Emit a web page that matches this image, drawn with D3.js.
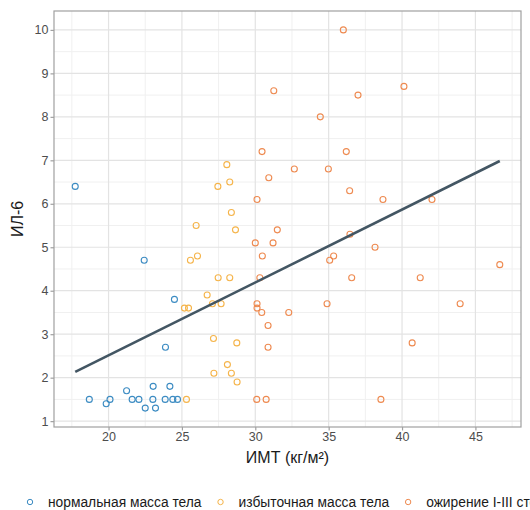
<!DOCTYPE html>
<html>
<head>
<meta charset="utf-8">
<script src="https://cdn.jsdelivr.net/npm/d3@7"></script>
<style>
  body { margin: 0; background: #fff; }
  svg { font-family: "Liberation Sans", Arial, sans-serif; }
</style>
</head>
<body>
<div id="chart"></div>
<script>
'use strict';

// ИМТ and ИЛ-6 per group
var normalBmi = [17.73, 22.43, 24.49, 23.88, 21.23, 23.04, 24.18, 18.69, 19.84, 20.10, 21.61, 22.07, 23.02, 23.86, 24.38, 24.70, 22.50, 23.20];
var normalIl6 = [6.4, 4.7, 3.8, 2.7, 1.7, 1.8, 1.8, 1.5, 1.4, 1.5, 1.5, 1.5, 1.5, 1.5, 1.5, 1.5, 1.3, 1.3];

var overBmi = [28.06, 27.45, 28.26, 28.37, 25.97, 28.65, 26.06, 25.58, 27.47, 28.26, 26.72, 27.08, 27.67, 25.17, 25.45, 27.15, 28.74, 28.10, 27.18, 28.37, 28.76, 25.31];
var overIl6 = [6.9, 6.4, 6.5, 5.8, 5.5, 5.4, 4.8, 4.7, 4.3, 4.3, 3.9, 3.7, 3.7, 3.6, 3.6, 2.9, 2.8, 2.3, 2.1, 2.1, 1.9, 1.5];

var obeseBmi = [31.26, 30.46, 30.92, 30.12, 36.0, 40.13, 37.0, 34.43, 36.20, 32.66, 34.98, 36.43, 38.70, 42.04, 31.50, 30.0, 31.21, 30.48, 30.31, 30.12, 30.12, 30.44, 32.28, 30.87, 30.87, 30.10, 30.74, 36.45, 38.16, 35.07, 35.34, 46.66, 36.57, 41.24, 34.89, 43.96, 40.69, 38.56];
var obeseIl6 = [8.6, 7.2, 6.6, 6.1, 10.0, 8.7, 8.5, 8.0, 7.2, 6.8, 6.8, 6.3, 6.1, 6.1, 5.4, 5.1, 5.1, 4.8, 4.3, 3.7, 3.6, 3.5, 3.5, 3.2, 2.7, 1.5, 1.5, 5.3, 5.0, 4.7, 4.8, 4.6, 4.3, 4.3, 3.7, 3.7, 2.8, 1.5];

var groups = ["нормальная масса тела", "избыточная масса тела", "ожирение I-III степени"];
var colors = ["#3b8bc2", "#f5b44a", "#ee8a50"];

var xTicks = [20, 25, 30, 35, 40, 45];
var yTicks = [1, 2, 3, 4, 5, 6, 7, 8, 9, 10];

var width = 530, height = 510;
var margin = {top: 11, right: 9, bottom: 83, left: 54};

var points = [];
[[normalBmi, normalIl6], [overBmi, overIl6], [obeseBmi, obeseIl6]].forEach(function(s, gi) {
  s[0].forEach(function(x, i) {
    points.push({x: x, y: s[1][i], g: gi});
  });
});

// ggplot style 5% expansion
function expand(ext) {
  var pad = (ext[1] - ext[0]) * 0.05;
  return [ext[0] - pad, ext[1] + pad];
}

var x = d3.scaleLinear()
  .domain(expand(d3.extent(points, d => d.x)))
  .range([margin.left, width - margin.right]);

var y = d3.scaleLinear()
  .domain(expand(d3.extent(points, d => d.y)))
  .range([height - margin.bottom, margin.top]);

var svg = d3.select("#chart").append("svg")
  .attr("width", width)
  .attr("height", height);

// grid
var minorX = xTicks.map(d => d - 2.5).concat([xTicks[xTicks.length - 1] + 2.5])
  .filter(d => d > x.domain()[0] && d < x.domain()[1]);
var minorY = yTicks.map(d => d + 0.5).filter(d => d < y.domain()[1]);

var grid = svg.append("g");
grid.selectAll(".mx").data(minorX).enter().append("line")
  .attr("x1", d => x(d)).attr("x2", d => x(d))
  .attr("y1", y.range()[0]).attr("y2", y.range()[1])
  .attr("stroke", "#f0f0f0").attr("stroke-width", 1);
grid.selectAll(".my").data(minorY).enter().append("line")
  .attr("y1", d => y(d)).attr("y2", d => y(d))
  .attr("x1", x.range()[0]).attr("x2", x.range()[1])
  .attr("stroke", "#f0f0f0").attr("stroke-width", 1);
grid.selectAll(".gx").data(xTicks).enter().append("line")
  .attr("x1", d => x(d)).attr("x2", d => x(d))
  .attr("y1", y.range()[0]).attr("y2", y.range()[1])
  .attr("stroke", "#e3e3e3").attr("stroke-width", 1.2);
grid.selectAll(".gy").data(yTicks).enter().append("line")
  .attr("y1", d => y(d)).attr("y2", d => y(d))
  .attr("x1", x.range()[0]).attr("x2", x.range()[1])
  .attr("stroke", "#e3e3e3").attr("stroke-width", 1.2);

// points
svg.append("g").selectAll("circle")
  .data(points)
  .enter().append("circle")
  .attr("cx", d => x(d.x))
  .attr("cy", d => y(d.y))
  .attr("r", 3)
  .attr("fill", "none")
  .attr("stroke", d => colors[d.g])
  .attr("stroke-width", 1.1);

// least squares fit over all points
var mx = d3.mean(points, d => d.x), my = d3.mean(points, d => d.y);
var slope = d3.sum(points, d => (d.x - mx) * (d.y - my)) / d3.sum(points, d => (d.x - mx) * (d.x - mx));
var icpt = my - slope * mx;
var xr = d3.extent(points, d => d.x);
var fit = xr.map(v => ({x: v, y: icpt + slope * v}));

svg.append("path")
  .datum(fit)
  .attr("d", d3.line().x(d => x(d.x)).y(d => y(d.y)))
  .attr("fill", "none")
  .attr("stroke", "#435663")
  .attr("stroke-width", 2.6);

// panel border
svg.append("rect")
  .attr("x", x.range()[0]).attr("y", y.range()[1])
  .attr("width", x.range()[1] - x.range()[0])
  .attr("height", y.range()[0] - y.range()[1])
  .attr("fill", "none")
  .attr("stroke", "#a0a0a0")
  .attr("stroke-width", 1.2);

// axes
var xAxis = svg.append("g")
  .attr("transform", "translate(0," + y.range()[0] + ")")
  .call(d3.axisBottom(x).tickValues(xTicks).tickSize(3.5).tickPadding(2));
var yAxis = svg.append("g")
  .attr("transform", "translate(" + x.range()[0] + ",0)")
  .call(d3.axisLeft(y).tickValues(yTicks).tickSize(3.5).tickPadding(2));

[xAxis, yAxis].forEach(function(a) {
  a.select(".domain").remove();
  a.selectAll(".tick line").attr("stroke", "#a0a0a0").attr("stroke-width", 1.2);
  a.selectAll(".tick text")
    .attr("fill", "#4d4d4d")
    .style("font-size", "12.5px")
    .style("font-family", "Liberation Sans, Arial, sans-serif");
});

// axis titles
svg.append("text")
  .attr("x", (x.range()[0] + x.range()[1]) / 2)
  .attr("y", 463)
  .attr("text-anchor", "middle")
  .attr("fill", "#1a1a1a")
  .style("font-size", "16px")
  .text("ИМТ (кг/м²)");

svg.append("text")
  .attr("transform", "translate(23," + (y.range()[0] + y.range()[1]) / 2 + ") rotate(-90)")
  .attr("text-anchor", "middle")
  .attr("fill", "#1a1a1a")
  .style("font-size", "16px")
  .text("ИЛ-6");

// legend
var legend = svg.append("g").attr("transform", "translate(0,502)");
var lx = 30;
groups.forEach(function(name, i) {
  legend.append("circle")
    .attr("cx", lx).attr("cy", 0).attr("r", 2.7)
    .attr("fill", "none").attr("stroke", colors[i]).attr("stroke-width", 1);
  var t = legend.append("text")
    .attr("x", lx + 18).attr("y", 5)
    .attr("fill", "#1a1a1a")
    .style("font-size", "13.8px")
    .text(name);
  lx += 18 + t.node().getComputedTextLength() + 19;
});
</script>
</body>
</html>
